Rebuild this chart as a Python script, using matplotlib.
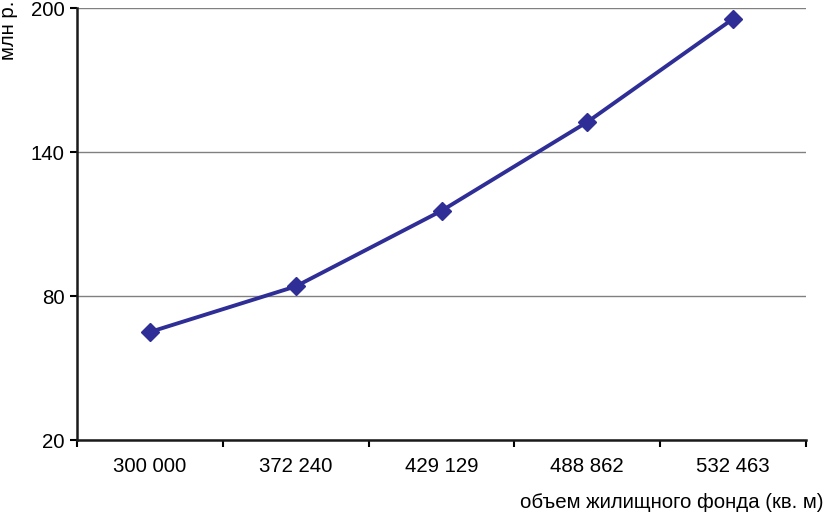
import matplotlib
matplotlib.use("Agg")
import matplotlib.pyplot as plt

categories = ["300 000", "372 240", "429 129", "488 862", "532 463"]
values = [65, 84, 115.5, 152.5, 195.5]
y_ticks = [20, 80, 140, 200]

plt.rcParams['font.family'] = ['Liberation Sans', 'DejaVu Sans']
FS = 14.7

fig = plt.figure(figsize=(8.26, 5.14), dpi=100)
ax = fig.add_axes([77/826, 1-440/514, (806-77)/826, (440-8)/514])

x = list(range(len(categories)))
ax.plot(x, values, color='#2E2E96', lw=2.8, marker='D', markersize=9.5,
        markerfacecolor='#2E2E96', markeredgecolor='#2E2E96', zorder=3, clip_on=False)

ax.set_xlim(-0.5, len(categories) - 0.5)
ax.set_ylim(20, 200)
ax.set_yticks(y_ticks)
ax.set_yticklabels([str(t) for t in y_ticks], fontsize=FS)
ax.yaxis.grid(True, color='#808080', lw=1)
ax.set_axisbelow(True)

ax.set_xticks([i - 0.5 for i in range(len(categories) + 1)])
ax.set_xticklabels([])
ax.set_xticks(x, minor=True)
ax.set_xticklabels(categories, minor=True, fontsize=FS)
ax.tick_params(axis='x', which='minor', length=0, pad=12)
ax.tick_params(axis='x', which='major', length=5, width=1.5, direction='out')
ax.tick_params(axis='y', length=5, width=1.5, direction='out', pad=4)

for s in ['top', 'right']:
    ax.spines[s].set_visible(False)
for s in ['left', 'bottom']:
    ax.spines[s].set_linewidth(1.8)
    ax.spines[s].set_color('#1a1a1a')

fig.text(823/826, 1-502/514, "объем жилищного фонда (кв. м)", ha='right', va='center', fontsize=FS)
fig.text(9/826, 1-1/514, "млн р.", ha='center', va='top', rotation=90, fontsize=FS)

fig.savefig("out.png", dpi=100)
